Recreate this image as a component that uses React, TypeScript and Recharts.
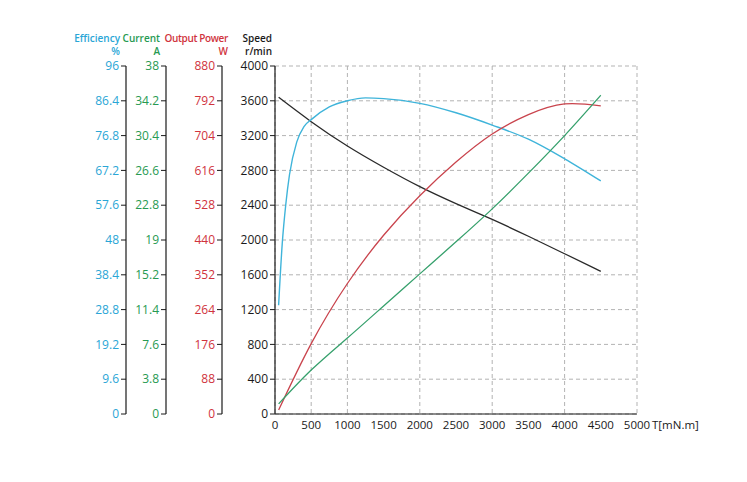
import React from "react";
import { LineChart, Line, XAxis, YAxis, CartesianGrid } from "recharts";

// Torque (x) ticks
const torqueTicks = [0, 500, 1000, 1500, 2000, 2500, 3000, 3500, 4000, 4500, 5000];

// Axis tick labels
const speedTicks = [0, 400, 800, 1200, 1600, 2000, 2400, 2800, 3200, 3600, 4000];
const powerTicks = [0, 88, 176, 264, 352, 440, 528, 616, 704, 792, 880];
const currentTicks = [0, 3.8, 7.6, 11.4, 15.2, 19, 22.8, 26.6, 30.4, 34.2, 38];
const effTicks = [0, 9.6, 19.2, 28.8, 38.4, 48, 57.6, 67.2, 76.8, 86.4, 96];

// Speed (r/min)
const speedTorque = [50, 500, 1000, 1500, 2000, 2500, 3000, 3500, 4000, 4500];
const speedValues = [3640, 3360, 3080, 2836, 2613, 2418, 2236, 2043, 1842, 1640];

// Efficiency (%)
const effTorque = [50, 100, 150, 200, 300, 400, 500, 750, 1000, 1250, 1500, 2000, 2500, 3000, 3500, 4000, 4500];
const effValues = [30, 47, 58, 66, 75, 79.3, 81.2, 84.7, 86.4, 87.2, 87.0, 85.7, 83.1, 79.7, 75.8, 70.4, 64.3];

// Output power (W)
const powerTorque = [50, 500, 1000, 1500, 2000, 2500, 3000, 3500, 4000, 4500];
const powerValues = [10, 178, 330, 452, 552, 637, 708, 757, 784, 779];

// Current (A)
const currentTorque = [50, 500, 1000, 1500, 2000, 2500, 3000, 3500, 4000, 4500];
const currentValues = [1.1, 4.8, 8.3, 11.8, 15.3, 18.8, 22.4, 26.3, 30.4, 34.8];

const zip = (ts: number[], vs: number[]) => ts.map((t, i) => ({ t, v: vs[i] }));

const speedData = zip(speedTorque, speedValues);
const effData = zip(effTorque, effValues);
const powerData = zip(powerTorque, powerValues);
const currentData = zip(currentTorque, currentValues);

const FONT = "'Open Sans', 'Noto Sans', sans-serif";
const AXIS = "#1a1a1a";
const EFF_TXT = "#2aa6d6";
const EFF_LINE = "#3fb4da";
const CUR_TXT = "#279a52";
const CUR_LINE = "#36a06c";
const PWR_TXT = "#d0333d";
const PWR_LINE = "#c9444d";
const SPD_LINE = "#2a2a2a";

const fmt = (v: number) => String(Math.round(v * 10) / 10);

const titleLabel = (l1: string, l2: string, color: string, dx: number, spacing = 0) => (props: any) => {
  const vb = props.viewBox || {};
  const x = vb.x + vb.width + dx;
  const y = vb.y;
  return (
    <g>
      <text x={x} y={y - 24} textAnchor="end" fill={color} fontSize={10} fontWeight={600} fontFamily={FONT} letterSpacing={spacing}>
        {l1}
      </text>
      <text x={x} y={y - 11.5} textAnchor="end" fill={color} fontSize={10} fontWeight={600} fontFamily={FONT}>
        {l2}
      </text>
    </g>
  );
};

const xLabel = (props: any) => {
  const vb = props.viewBox || {};
  return (
    <text x={vb.x + vb.width + 15} y={vb.y + 15} textAnchor="start" fill={AXIS} fontSize={11.5} fontFamily={FONT}>
      T[mN.m]
    </text>
  );
};

// axis ids are prefixed so that the speed axis sits next to the plot
const ID_SPEED = "a_speed";
const ID_POWER = "b_power";
const ID_CURRENT = "c_current";
const ID_EFF = "d_eff";

export default function App() {
  return (
    <div style={{ width: 730, height: 460 }}>
      <LineChart width={730} height={460} margin={{ top: 58, right: 101, bottom: 24, left: 68 }}>
        <CartesianGrid yAxisId={ID_SPEED} stroke="#b3b3b3" strokeDasharray="4 3" />
        <XAxis
          type="number"
          dataKey="t"
          domain={[0, 5000]}
          ticks={torqueTicks}
          allowDataOverflow
          height={30}
          tickLine={false}
          tickSize={5}
          tickMargin={2}
          axisLine={{ stroke: AXIS, strokeWidth: 1.2 }}
          tick={{ fill: AXIS, fontSize: 11.5, fontFamily: FONT }}
          label={xLabel}
        />
        <YAxis
          yAxisId={ID_SPEED}
          orientation="left"
          width={53}
          domain={[0, 4000]}
          ticks={speedTicks}
          interval={0}
          tickSize={5}
          tickMargin={2}
          axisLine={{ stroke: AXIS, strokeWidth: 1.2 }}
          tickLine={{ stroke: AXIS }}
          tick={{ fill: AXIS, fontSize: 12, fontFamily: FONT }}
          label={titleLabel("Speed", "r/min", AXIS, -3)}
        />
        <YAxis
          yAxisId={ID_POWER}
          orientation="left"
          width={56}
          domain={[0, 880]}
          ticks={powerTicks}
          interval={0}
          tickSize={5}
          tickMargin={2}
          axisLine={{ stroke: AXIS, strokeWidth: 1.2 }}
          tickLine={{ stroke: AXIS }}
          tick={{ fill: PWR_TXT, fontSize: 12, fontFamily: FONT }}
          tickFormatter={fmt}
          label={titleLabel("Output Power", "W", PWR_TXT, 6, -0.35)}
        />
        <YAxis
          yAxisId={ID_CURRENT}
          orientation="left"
          width={40}
          domain={[0, 38]}
          ticks={currentTicks}
          interval={0}
          tickSize={5}
          tickMargin={2}
          axisLine={{ stroke: AXIS, strokeWidth: 1.2 }}
          tickLine={{ stroke: AXIS }}
          tick={{ fill: CUR_TXT, fontSize: 12, fontFamily: FONT }}
          tickFormatter={fmt}
          label={titleLabel("Current", "A", CUR_TXT, -6)}
        />
        <YAxis
          yAxisId={ID_EFF}
          orientation="left"
          width={50}
          domain={[0, 96]}
          ticks={effTicks}
          interval={0}
          tickSize={5}
          tickMargin={2}
          axisLine={{ stroke: AXIS, strokeWidth: 1.2 }}
          tickLine={{ stroke: AXIS }}
          tick={{ fill: EFF_TXT, fontSize: 12, fontFamily: FONT }}
          tickFormatter={fmt}
          label={titleLabel("Efficiency", "%", EFF_TXT, -6)}
        />
        <Line yAxisId={ID_SPEED} data={speedData} dataKey="v" type="natural" stroke={SPD_LINE} strokeWidth={1.3} dot={false} isAnimationActive={false} />
        <Line yAxisId={ID_EFF} data={effData} dataKey="v" type="monotone" stroke={EFF_LINE} strokeWidth={1.4} dot={false} isAnimationActive={false} />
        <Line yAxisId={ID_POWER} data={powerData} dataKey="v" type="natural" stroke={PWR_LINE} strokeWidth={1.3} dot={false} isAnimationActive={false} />
        <Line yAxisId={ID_CURRENT} data={currentData} dataKey="v" type="natural" stroke={CUR_LINE} strokeWidth={1.3} dot={false} isAnimationActive={false} />
      </LineChart>
    </div>
  );
}
